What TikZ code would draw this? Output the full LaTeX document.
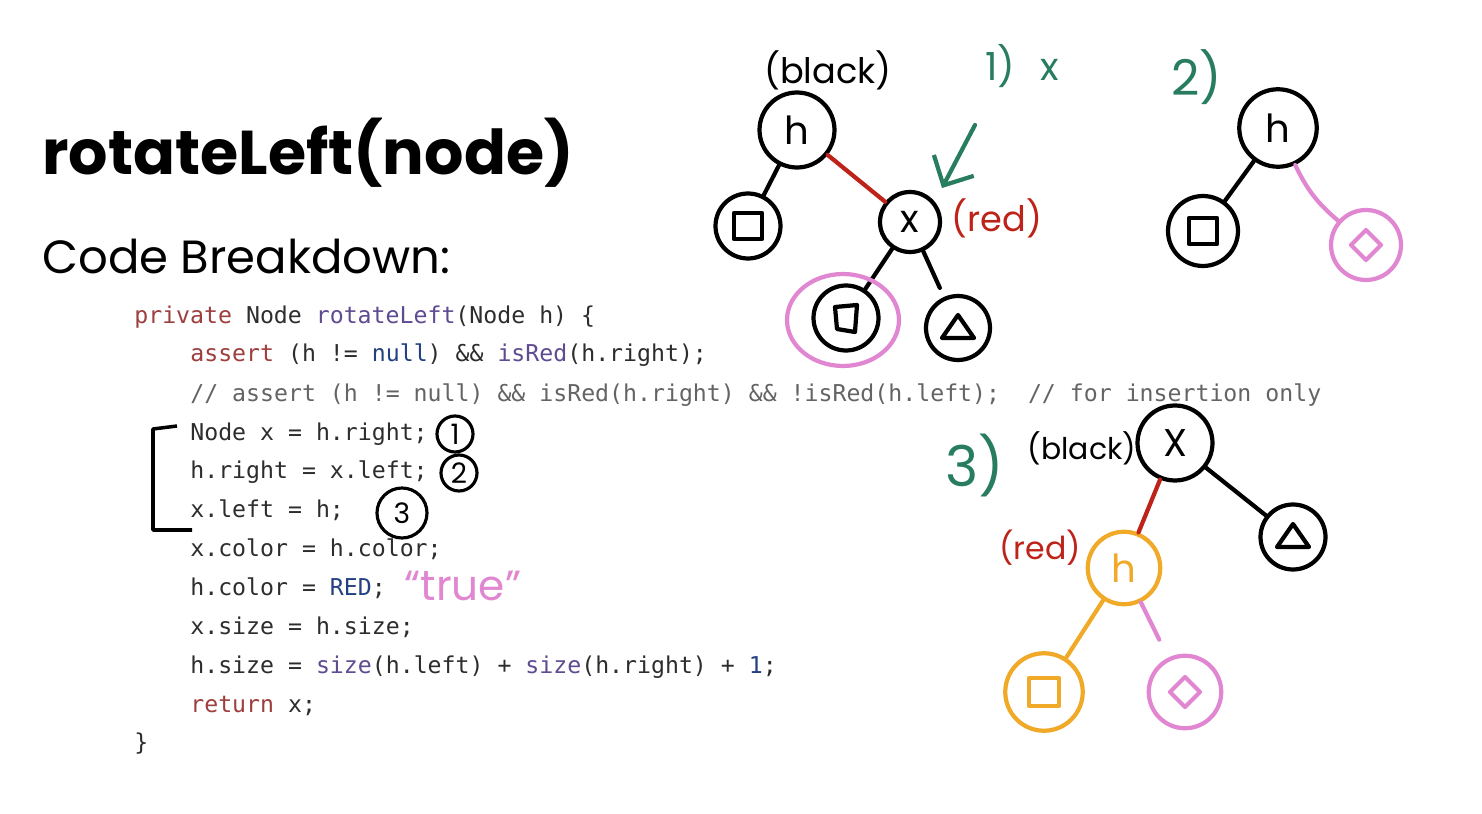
\documentclass[tikz,border=0pt]{standalone}
\usepackage{fontspec}
\setmainfont{Poppins}
\setmonofont{DejaVu Sans Mono}
\newfontfamily\handfont{Poppins}
\usetikzlibrary{arrows.meta}
\newcommand\setfs[1]{\fontsize{#1}{#1}\selectfont}
\definecolor{codetx}{RGB}{45,45,45}
\definecolor{codekw}{RGB}{158,62,62}
\definecolor{codefn}{RGB}{95,75,145}
\definecolor{codeval}{RGB}{35,65,130}
\definecolor{codecm}{RGB}{100,100,100}
\definecolor{hred}{RGB}{190,35,25}
\definecolor{hpink}{RGB}{225,135,210}
\definecolor{horange}{RGB}{240,170,40}
\definecolor{hgreen}{RGB}{40,125,95}
\begin{document}
\begin{tikzpicture}[x=0.02cm, y=-0.02cm,
  hw/.style={line width=2.4pt, line cap=round, line join=round},
  tnode/.style={circle, draw, hw, inner sep=0pt, font=\handfont\setfs{22}},
  edge/.style={hw},
  lbl/.style={inner sep=0pt, font=\handfont\setfs{20}},
  anno/.style={circle, draw, line width=1.8pt, inner sep=0pt, font=\handfont\setfs{16}},
  code/.style={anchor=base west, inner sep=0pt, font=\ttfamily\setfs{13.2}, text=codetx}]
\useasboundingbox[fill=white] (0,0) rectangle (1482,814);

% title
\node[anchor=base west, inner sep=0pt, font=\bfseries\setfs{35.2}] (title) at (42,175) {rotateLeft(node)};
\node[anchor=base west, inner sep=0pt, font=\setfs{26.5}] (subtitle) at (42,274) {Code Breakdown:};

% code
\node[code] (cl0) at (134,324) {\textcolor{codekw}{private} Node \textcolor{codefn}{rotateLeft}(Node h) \{};
\node[code] (cl1) at (190,362) {\textcolor{codekw}{assert} (h != \textcolor{codeval}{null}) \&\& \textcolor{codefn}{isRed}(h.right);};
\node[code, text=codecm] (cl2) at (190,401) {// assert (h != null) \&\& isRed(h.right) \&\& !isRed(h.left);\ \ // for insertion only};
\node[code] (cl3) at (190,440) {Node x = h.right;};
\node[code] (cl4) at (190,479) {h.right = x.left;};
\node[code] (cl5) at (190,518) {x.left = h;};
\node[code] (cl6) at (190,556) {x.color = h.color;};
\node[code] (cl7) at (190,595) {h.color = \textcolor{codeval}{RED};};
\node[code] (cl8) at (190,634) {x.size = h.size;};
\node[code] (cl9) at (190,673) {h.size = \textcolor{codefn}{size}(h.left) + \textcolor{codefn}{size}(h.right) + \textcolor{codeval}{1};};
\node[code] (cl10) at (190,712) {\textcolor{codekw}{return} x;};
\node[code] (cl11) at (134,750) {\}};

% notes on the code
\draw[line width=2pt, line join=round] (177,426) -- (153,429) -- (153,530) -- (192,530);
\node[anno, minimum size=0.72cm] (cid0) at (455,434) {1};
\node[anno, minimum size=0.72cm] (cid1) at (459,473) {2};
\node[anno, minimum size=1.0cm] (cid2) at (402,513) {3};
\node[lbl, text=hpink, font=\handfont\setfs{24}] (lb7) at (463,586) {“true”};

% tree 1
\node[lbl] (lb0) at (828,70) {(black)};
\node[lbl, text=hgreen, font=\handfont\setfs{22}] (lb2) at (1022,66) {1)\hspace{0.5cm}x};
\node[tnode, minimum size=1.5cm] (nid0) at (797,130) {h};
\node[tnode, minimum size=1.3cm] (nid1) at (748,226) {};
\node[tnode, minimum size=1.2cm] (nid2) at (910,222) {x};
\node[tnode, minimum size=1.3cm] (nid3) at (846,318) {};
\node[tnode, minimum size=1.28cm] (nid4) at (958,328) {};
\node[lbl, text=hred] (lb1) at (997,218) {(red)};
\draw[edge] (nid0) -- (nid1);
\draw[edge, hred] (nid0) -- (nid2);
\draw[edge] (nid2) -- (nid3);
\draw[edge, shorten >=0.2cm] (nid2) -- (nid4);
\draw[hw, shift={(nid1.center)}] (-14,-13) rectangle (14,13);
\draw[hw, shift={(nid3.center)}] (-11,-11) -- (11,-13) -- (9,14) -- (-9,11) -- cycle;
\draw[hw, shift={(nid4.center)}] (-16,10) -- (16,10) -- (0,-13) -- cycle;
\draw[hw, hpink] (nid3.center) ++(-3,2) ellipse [x radius=1.12cm, y radius=0.92cm];
\coordinate (ar0) at (975,125);
\coordinate (ar1) at (942,188);
\draw[hw, hgreen, -{Straight Barb[length=0.45cm, width=0.9cm]}] (ar0) -- (ar1);

% tree 2
\node[lbl, text=hgreen, font=\handfont\setfs{28}] (lb3) at (1197,77) {2)};
\node[tnode, minimum size=1.55cm] (nid5) at (1278,128) {h};
\node[tnode, minimum size=1.4cm] (nid6) at (1203,231) {};
\node[tnode, hpink, minimum size=1.4cm] (nid7) at (1366,245) {};
\draw[edge] (nid5) -- (nid6);
\draw[edge, hpink] (nid5) to[bend right=12] (nid7);
\draw[hw, shift={(nid6.center)}] (-14,-13) rectangle (14,13);
\draw[hw, hpink, shift={(nid7.center)}] (0,-15) -- (15,0) -- (0,15) -- (-15,0) -- cycle;

% tree 3
\node[lbl, text=hgreen, font=\handfont\setfs{32}] (lb4) at (975,465) {3)};
\node[lbl, font=\handfont\setfs{17}] (lb5) at (1082,448) {(black)};
\node[tnode, minimum size=1.5cm] (nid8) at (1175,443) {X};
\node[tnode, minimum size=1.3cm] (nid9) at (1293,537) {};
\node[tnode, horange, minimum size=1.45cm] (nid10) at (1124,568) {h};
\node[lbl, text=hred, font=\handfont\setfs{18}] (lb6) at (1040,548) {(red)};
\node[tnode, horange, minimum size=1.55cm] (nid11) at (1044,692) {};
\node[tnode, hpink, minimum size=1.45cm] (nid12) at (1185,692) {};
\draw[edge, hred] (nid8) -- (nid10);
\draw[edge] (nid8) -- (nid9);
\draw[edge, horange] (nid10) -- (nid11);
\draw[edge, hpink, shorten >=0.4cm] (nid10) -- (nid12);
\draw[hw, shift={(nid9.center)}] (-16,10) -- (16,10) -- (0,-13) -- cycle;
\draw[hw, horange, shift={(nid11.center)}] (-15,-14) rectangle (15,14);
\draw[hw, hpink, shift={(nid12.center)}] (0,-15) -- (15,0) -- (0,15) -- (-15,0) -- cycle;

\end{tikzpicture}
\end{document}
